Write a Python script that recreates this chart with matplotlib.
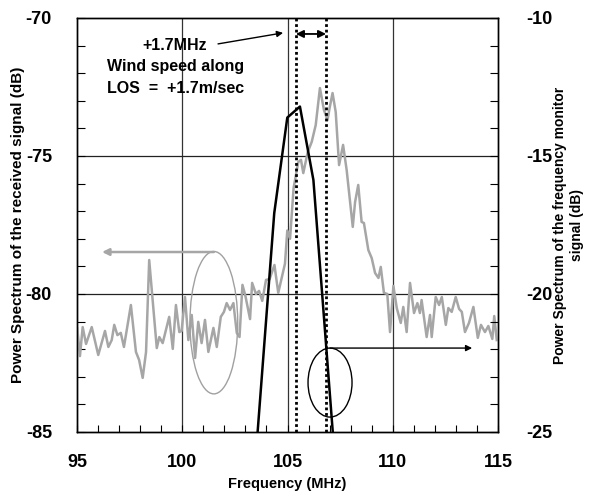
import matplotlib
matplotlib.use("Agg")
import matplotlib.pyplot as plt
from matplotlib.patches import Ellipse
from matplotlib.ticker import MultipleLocator

plt.rcParams['font.family'] = ['Liberation Sans', 'DejaVu Sans']
plt.rcParams['font.weight'] = 'bold'
plt.rcParams['axes.unicode_minus'] = False

# received signal spectrum (left axis, dB)
freq_rx = [95.01, 95.14, 95.27, 95.43, 95.70, 96.01, 96.33, 96.49, 96.65, 96.77, 96.92, 97.08,
           97.23, 97.56, 97.80, 97.95, 98.12, 98.28, 98.43, 98.79, 98.91, 99.07, 99.38, 99.55,
           99.70, 99.86, 99.97, 100.13, 100.29, 100.45, 100.61, 100.76, 100.92, 101.08, 101.24,
           101.48, 101.64, 101.83, 101.98, 102.11, 102.27, 102.43, 102.59, 102.72, 102.86, 103.00,
           103.22, 103.32, 103.50, 103.65, 103.80, 103.98, 104.15, 104.38, 104.56, 104.88, 104.99,
           105.12, 105.29, 105.51, 105.64, 105.75, 105.96, 106.15, 106.34, 106.54, 106.73, 106.90,
           107.00, 107.14, 107.29, 107.45, 107.64, 107.81, 108.10, 108.21, 108.36, 108.52, 108.63,
           108.84, 109.00, 109.16, 109.32, 109.43, 109.58, 109.74, 109.87, 110.03, 110.19, 110.38,
           110.50, 110.66, 110.82, 111.01, 111.17, 111.29, 111.37, 111.61, 111.77, 111.85, 112.04,
           112.20, 112.33, 112.52, 112.64, 112.80, 112.99, 113.15, 113.28, 113.43, 113.62, 113.83,
           114.04, 114.19, 114.38, 114.54, 114.73, 114.82, 114.94]
power_rx = [-81.23, -82.25, -81.20, -81.81, -81.20, -82.21, -81.34, -81.92, -81.67, -81.12, -81.49, -81.41,
            -81.92, -80.40, -82.10, -82.39, -83.04, -82.10, -78.77, -81.96, -81.56, -81.78, -80.83, -81.99,
            -80.40, -81.38, -81.34, -80.11, -81.67, -80.76, -82.32, -81.01, -81.78, -80.94, -82.10,
            -81.23, -81.92, -80.83, -80.65, -80.33, -80.58, -80.33, -81.41, -81.56, -79.67, -80.07,
            -80.91, -79.60, -80.00, -79.89, -80.25, -79.49, -79.46, -78.95, -79.96, -78.90, -77.70,
            -78.00, -76.16, -75.22, -75.14, -75.62, -74.86, -74.49, -73.88, -72.54, -73.33, -73.70,
            -73.26, -72.72, -73.41, -75.33, -74.60, -75.51, -77.57, -76.67, -76.05, -77.39, -77.43,
            -78.41, -78.70, -79.24, -79.42, -79.02, -79.96, -80.00, -81.38, -79.71, -80.51, -81.05,
            -80.47, -81.38, -79.60, -80.69, -80.33, -80.69, -80.22, -81.56, -80.76, -81.56, -80.11,
            -80.40, -80.11, -81.12, -80.51, -80.65, -80.11, -80.54, -80.65, -81.38, -81.05, -80.47,
            -81.59, -81.12, -81.38, -81.16, -81.63, -80.80, -81.67]

# frequency monitor spectrum (right axis, dB)
freq_mon = [103.58, 104.37, 104.99, 105.59, 106.23, 107.15]
power_mon = [-25.0, -17.07, -13.61, -13.21, -15.87, -25.0]

# Doppler markers (MHz)
shift_lines = [105.40, 106.83]

xticks = [95, 100, 105, 110, 115]
yticks_left = [-85, -80, -75, -70]
yticks_right = [-25, -20, -15, -10]

fig = plt.figure(figsize=(5.9, 4.92), dpi=100)
ax = fig.add_axes([0.1305, 0.122, 0.7136, 0.8415])
ax2 = ax.twinx()

ax.set_xlim(95, 115)
ax.set_ylim(-85, -70)
ax2.set_ylim(-25, -10)

# grid
for g in [100, 105, 110]:
    ax.axvline(g, color='#333333', lw=0.9, zorder=1)
for g in [-80, -75]:
    ax.axhline(g, color='#222222', lw=0.9, zorder=1)

ax.plot(freq_rx, power_rx, color='#a6a6a6', lw=1.8, zorder=3)
ax2.plot(freq_mon, power_mon, color='black', lw=1.8, zorder=3, clip_on=True)

for s in shift_lines:
    ax.axvline(s, color='black', lw=2.0, ls=(0, (1, 1)), zorder=4)

# double arrow between markers
ax.annotate('', xy=(shift_lines[1], -70.58), xytext=(shift_lines[0], -70.58),
            arrowprops=dict(arrowstyle='<|-|>', color='black', lw=1.3, mutation_scale=11,
                            shrinkA=0, shrinkB=0), zorder=5)
# arrow from text
ax.annotate('', xy=(104.79, -70.54), xytext=(101.70, -70.94),
            arrowprops=dict(arrowstyle='-|>', color='black', lw=1.0, mutation_scale=9,
                            shrinkA=0, shrinkB=0), zorder=5)
txt_x = 99.66
ax.text(txt_x, -70.98, '+1.7MHz', ha='center', va='center', fontsize=11.5, fontweight='bold')
ax.text(txt_x, -71.76, 'Wind speed along', ha='center', va='center', fontsize=11.5, fontweight='bold')
ax.text(txt_x, -72.56, 'LOS  =  +1.7m/sec', ha='center', va='center', fontsize=11.5, fontweight='bold')

# gray ellipse + arrow to left axis
ax.add_patch(Ellipse((101.50, -81.04), 2.27, 5.16, fill=False, edgecolor='#a0a0a0', lw=1.0, zorder=4))
ax.annotate('', xy=(96.19, -78.48), xytext=(101.5, -78.48),
            arrowprops=dict(arrowstyle='-|>', color='#a6a6a6', lw=1.8, mutation_scale=10,
                            shrinkA=0, shrinkB=0), zorder=5)
# black ellipse + arrow to right axis
ax.add_patch(Ellipse((107.02, -83.21), 2.09, 2.5, fill=False, edgecolor='black', lw=1.0, zorder=4))
ax.annotate('', xy=(113.77, -81.96), xytext=(107.02, -81.96),
            arrowprops=dict(arrowstyle='-|>', color='black', lw=1.0, mutation_scale=9,
                            shrinkA=0, shrinkB=0), zorder=5)

ax.set_xticks(xticks)
ax.xaxis.set_minor_locator(MultipleLocator(1))
ax.set_yticks(yticks_left)
ax.yaxis.set_minor_locator(MultipleLocator(1))
ax2.set_yticks(yticks_right)
ax2.yaxis.set_minor_locator(MultipleLocator(1))

ax.tick_params(axis='x', which='both', direction='in', length=5, width=0.8, pad=16, labelsize=13, top=False)
ax.tick_params(axis='y', which='both', direction='in', length=6, width=0.8, pad=18, labelsize=13)
ax2.tick_params(axis='y', which='both', direction='in', length=6, width=0.8, pad=20, labelsize=13)
for lab in ax.get_xticklabels() + ax.get_yticklabels() + ax2.get_yticklabels():
    lab.set_fontweight('bold')

for a in (ax, ax2):
    for sp in a.spines.values():
        sp.set_linewidth(1.0)
        sp.set_color('black')

ax.set_xlabel('Frequency (MHz)', fontsize=10.5, fontweight='bold', labelpad=4)
ax.set_ylabel('Power Spectrum of the received signal (dB)', fontsize=11, fontweight='bold',
              rotation=90, va='center', ha='center')
ax.yaxis.set_label_coords(-0.140, 0.5)
ax2.set_ylabel('Power Spectrum of the frequency monitor\nsignal (dB)', fontsize=10, fontweight='bold',
               rotation=90, va='center', ha='center', linespacing=1.3)
ax2.yaxis.set_label_coords(1.168, 0.5)

fig.savefig('out.png', dpi=100)
